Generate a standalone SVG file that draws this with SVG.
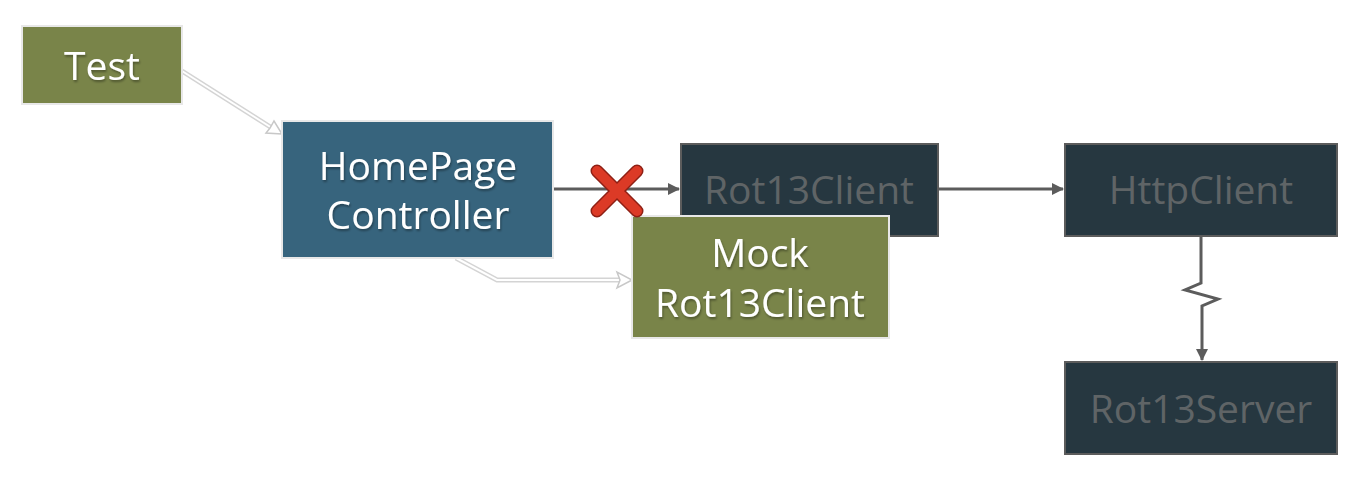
<svg xmlns="http://www.w3.org/2000/svg" width="1358" height="482" viewBox="0 0 1358 482">
<style>
.olive{fill:#798449;stroke:#e8e8e8;stroke-width:2}
.blue{fill:#37647d;stroke:#e8e8e8;stroke-width:2}
.dark{fill:#263740;stroke:#5c5c5c;stroke-width:2}
.wt{font-family:"Open Sans","Noto Sans",sans-serif;font-size:39px;font-weight:500;fill:#ffffff;text-anchor:middle;filter:url(#sh)}
.gt{font-family:"Open Sans","Noto Sans",sans-serif;font-size:39px;font-weight:500;fill:#5f6466;text-anchor:middle}
.conn{fill:none;stroke:#5c5c5c;stroke-width:3}
.hollowO{fill:none;stroke:#d4d4d4;stroke-width:5}
.hollowI{fill:none;stroke:#ffffff;stroke-width:2}
</style>
<defs>
<filter id="sh" x="-10%" y="-10%" width="120%" height="130%">
<feDropShadow dx="1" dy="2" stdDeviation="1" flood-color="#000" flood-opacity="0.35"/>
</filter>
<marker id="ah2" markerWidth="12" markerHeight="12" refX="11" refY="6" orient="auto" markerUnits="userSpaceOnUse" viewBox="0 0 12 12">
<path d="M0,0 L12,6 L0,12 z" fill="#5c5c5c"/>
</marker>
</defs>
<g id="connectors">
<path class="hollowO" d="M182,71 L272,128"/>
<path class="hollowI" d="M182,71 L272,128"/>
<path d="M282,134 L266,133 L270,128 L274,121 z" fill="#ffffff" stroke="#c8c8c8" stroke-width="1.5"/>
<path class="hollowO" d="M456,258 L497,280 L624,280"/>
<path class="hollowI" d="M456,258 L497,280 L624,280"/>
<path d="M632,280 L617,288 L620,280 L617,272 z" fill="#ffffff" stroke="#c8c8c8" stroke-width="1.5"/>
<path class="conn" d="M553,189 L679,189" marker-end="url(#ah2)"/>
<path class="conn" d="M938,189 L1063,189" marker-end="url(#ah2)"/>
<path class="conn" d="M1201,236 L1201,283 L1185,290 L1218,299 L1202,306 L1202,360" marker-end="url(#ah2)"/>
</g>
<g id="test">
<rect class="olive" x="22" y="26" width="160" height="78"/>
<text class="wt" x="102" y="80">Test</text>
</g>
<g id="homepage">
<rect class="blue" x="282" y="121" width="271" height="137"/>
<text class="wt" x="418" y="180">HomePage</text>
<text class="wt" x="418" y="229">Controller</text>
</g>
<g id="rot13client">
<rect class="dark" x="681" y="144" width="257" height="92"/>
<text class="gt" x="809" y="204">Rot13Client</text>
</g>
<g id="mock">
<rect class="olive" x="632" y="216" width="257" height="122"/>
<text class="wt" x="760" y="267">Mock</text>
<text class="wt" x="760" y="317">Rot13Client</text>
</g>
<g id="httpclient">
<rect class="dark" x="1065" y="144" width="272" height="92"/>
<text class="gt" x="1201" y="204">HttpClient</text>
</g>
<g id="rot13server">
<rect class="dark" x="1065" y="362" width="272" height="92"/>
<text class="gt" x="1201" y="423">Rot13Server</text>
</g>
<g id="cross">
<path d="M597,171 L637,211 M637,171 L597,211" stroke="#8e1f14" stroke-width="13" stroke-linecap="round"/>
<path d="M597,171 L637,211 M637,171 L597,211" stroke="#dc3a26" stroke-width="10" stroke-linecap="round"/>
</g>
</svg>
